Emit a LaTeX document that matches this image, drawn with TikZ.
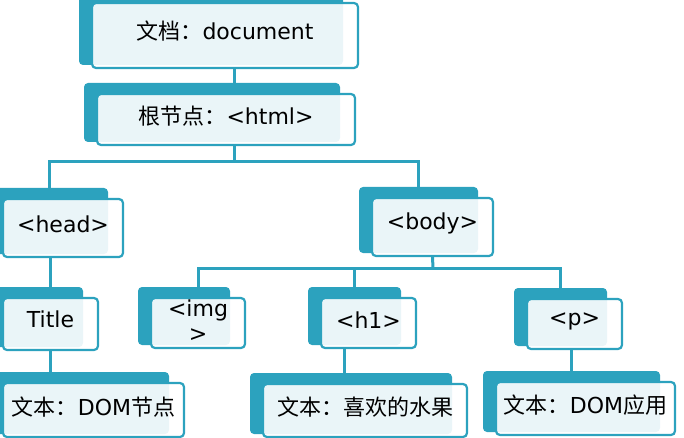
\documentclass[tikz,border=0pt]{standalone}
\usepackage{fontspec}
\setmainfont{DejaVu Sans}
\newfontfamily\cjkf{Noto Sans CJK SC}
\newcommand\zh[1]{{\cjkf #1}}
\pgfdeclarelayer{background}
\pgfsetlayers{background,main}
\definecolor{teal1}{RGB}{44,162,190}
\tikzset{
  frontbox/.style={draw=teal1, line width=2.2pt, fill=white, fill opacity=0.9, rounded corners=4pt, inner sep=0pt},
  backbox/.style={fill=teal1, rounded corners=4pt, inner sep=0pt},
  txt/.style={font=\fontsize{22}{25}\selectfont, text=black, align=center, inner sep=0pt},
  link/.style={draw=teal1, line width=3pt},
}
% name, x1, y1, x2, y2, text yshift, text
\newcommand\dombox[7]{%
  \node[frontbox, minimum width={(#4-#2)*1pt}, minimum height={(#5-#3)*1pt}] (#1) at ({(#2+#4)/2},{(#3+#5)/2}) {};
  \begin{pgfonlayer}{background}
    \node[backbox, minimum width={(#4-#2-2)*1pt}, minimum height={(#5-#3+8)*1pt}] (#1-b) at ({(#2+#4)/2-14},{(#3+#5)/2-7}) {};
  \end{pgfonlayer}
  \node[txt] (#1-t) at ([yshift=#6pt]#1.center) {#7};
}
\begin{document}
\begin{tikzpicture}[x=1pt,y=-1pt]
\useasboundingbox (0,0) rectangle (684,438);
\dombox{doc}{92}{3}{358}{68}{4}{\zh{文档：}document}
\dombox{html}{97}{94}{355}{145}{3}{\zh{根节点：}<html>}
\dombox{head}{3}{199}{123}{257}{4}{<head>}
\dombox{body}{372}{198}{493}{256}{4}{<body>}
\dombox{title}{3}{298}{98}{350}{5}{Title}
\dombox{img}{151}{298}{245}{348}{2}{<img\\>}
\dombox{hone}{321}{298}{416}{348}{3}{<h1>}
\dombox{para}{527}{299}{622}{349}{3}{<p>}
\dombox{tone}{3}{383}{184}{437}{3}{\zh{文本：}DOM\zh{节点}}
\dombox{ttwo}{263}{384}{467}{437}{3}{\zh{文本：喜欢的水果}}
\dombox{tthree}{496}{382}{675}{435}{3}{\zh{文本：}DOM\zh{应用}}
\coordinate (j1) at (234,162);
\coordinate (j2) at (433,268);
\draw[link] ([xshift=9pt]doc.south) -- ([xshift=9pt]doc.south |- html-b.north);
\draw[link] ([xshift=8pt]html.south) -- (j1);
\draw[link] (head-b.north) |- (j1) -| (body-b.north);
\draw[link] (body.south) -- (j2);
\draw[link] (img.north |- img-b.north) |- (j2) -| (para-b.north);
\draw[link] (hone-b.north) -- (hone-b.north |- j2);
\draw[link] (title.north |- head.south) -- (title.north |- title-b.north);
\draw[link] (title.south) -- (title.south |- tone-b.north);
\draw[link] ([xshift=-24pt]hone.south) -- ([xshift=-24pt]hone.south |- ttwo-b.north);
\draw[link] (tthree-b.north |- para.south) -- (tthree-b.north);
\end{tikzpicture}
\end{document}
